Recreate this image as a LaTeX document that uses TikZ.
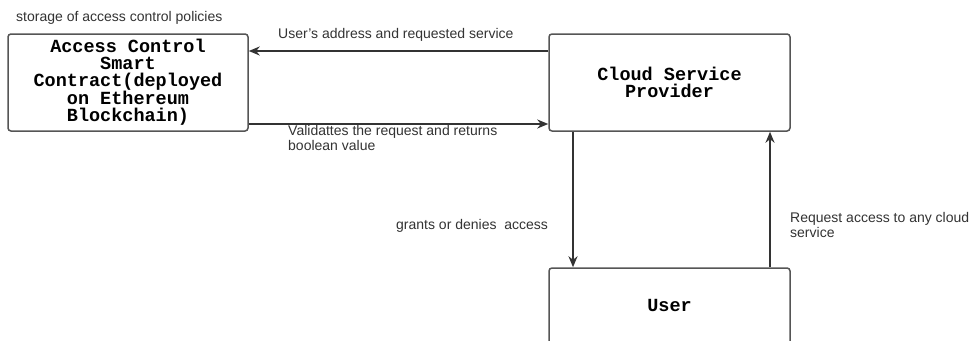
\documentclass[tikz,border=0pt]{standalone}
\usepackage{fontspec}
\setmainfont{Liberation Sans}
\newfontfamily\boxfont{Liberation Mono}
\usetikzlibrary{arrows.meta}
\definecolor{linec}{HTML}{333333}
\definecolor{boxc}{HTML}{555555}
\definecolor{txtc}{HTML}{333333}
\begin{document}
\begin{tikzpicture}[x=1pt,y=-1pt,
  boxnode/.style={draw=boxc, line width=1.5pt, rounded corners=3pt, fill=white,
    align=center, font=\boxfont\bfseries\fontsize{18.5}{17}\selectfont, text=black, inner sep=0pt},
  arr/.style={draw=linec, line width=2pt, -{Stealth[length=11pt,width=9pt]}},
  lbl/.style={font=\fontsize{14}{15.5}\selectfont, text=txtc, align=left, inner sep=0pt}]
\useasboundingbox (0,0) rectangle (973,340);
\clip (0,0) rectangle (973,340);
\fill[white] (0,0) rectangle (973,340);
\node[boxnode, minimum width=240pt, minimum height=97pt] (acc) at (128,82.5)
  {Access Control\\Smart\\Contract(deployed\\on Ethereum\\Blockchain)};
\node[boxnode, minimum width=241pt, minimum height=97pt] (csp) at (669.5,82.5)
  {Cloud Service\\Provider};
\node[boxnode, minimum width=241pt, minimum height=80pt] (usr) at (669.5,308)
  {\raisebox{5pt}{User}};
\draw[arr] (csp.west |- 0,51) -- (acc.east |- 0,51);
\draw[arr] (acc.east |- 0,124) -- (csp.west |- 0,124);
\draw[arr] (csp.south -| 573,0) -- (usr.north -| 573,0);
\draw[arr] (usr.north -| 770,0) -- (csp.south -| 770,0);
\node[lbl, anchor=west] (l1) at (16,18) {storage of access control policies};
\node[lbl, anchor=west] (l2) at (278,35) {User's address and requested service};
\node[lbl, anchor=north west] (l3) at (288,125) {Validattes the request and returns\\boolean value};
\node[lbl, anchor=west] (l4) at (396,226) {grants or denies\ \ access};
\node[lbl, anchor=north west] (l5) at (790,212) {Request access to any cloud\\service};
\end{tikzpicture}
\end{document}
